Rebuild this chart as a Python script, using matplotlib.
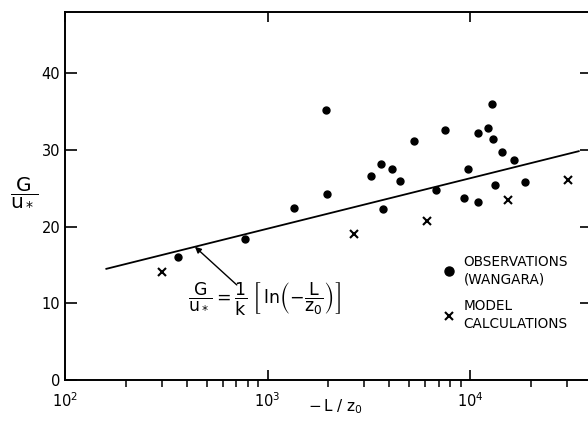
import numpy as np
import matplotlib
matplotlib.use("Agg")
from matplotlib import pyplot as plt
from matplotlib.lines import Line2D
from matplotlib.ticker import LogLocator, NullFormatter

plt.rcParams['font.family'] = ['DejaVu Sans']
plt.rcParams['mathtext.fontset'] = 'dejavusans'
plt.rcParams['mathtext.default'] = 'regular'

# Wangara observations (-L/z0, G/u*)
obs_x = [363, 774, 1352, 1950, 1972, 3233, 3622, 3733, 4121, 4532, 5306,
         6798, 7530, 9370, 9775, 10917, 10990, 12270, 12800, 12940, 13280,
         14440, 16560, 18620]
obs_y = [16.1, 18.4, 22.4, 35.2, 24.2, 26.6, 28.2, 22.3, 27.5, 26.0, 31.2,
         24.8, 32.6, 23.8, 27.5, 23.2, 32.2, 32.9, 36.0, 31.5, 25.5,
         29.7, 28.7, 25.8]

# model calculations
model_x = [300, 2673, 6110, 15350, 30340]
model_y = [14.1, 19.0, 20.8, 23.5, 26.1]

# G/u* = (1/k) ln(-L/z0)
k = 0.35
line_x = np.array([160, 34400])
line_y = np.log(line_x) / k

fig = plt.figure(figsize=(5.88, 4.24), dpi=100)
ax = fig.add_axes([65 / 588, 1 - 380 / 424, 527 / 588, 368 / 424])

ax.plot(line_x, line_y, color='black', lw=1.3)
ax.plot(obs_x, obs_y, 'o', color='black', ms=5, mec='black')
ax.plot(model_x, model_y, 'x', color='black', ms=5.5, mew=1.5)

ax.set_xscale('log')
ax.set_xlim(100, 4e4)
ax.set_ylim(0, 48)
ax.set_yticks([0, 10, 20, 30, 40])
ax.xaxis.set_minor_locator(LogLocator(base=10, subs=np.arange(2, 10)))
ax.xaxis.set_minor_formatter(NullFormatter())

for s in ax.spines.values():
    s.set_linewidth(1.4)

ax.tick_params(direction='in', top=True, right=True, labelsize=10.5,
               width=1.2, color='black')
ax.tick_params(axis='x', which='major', length=7, pad=8)
ax.tick_params(axis='x', which='minor', length=5, width=1.1)
ax.tick_params(axis='y', which='major', length=8.5, pad=3.5)

ax.set_xlabel(r'$-\,L\ /\ z_0$', fontsize=11)
ax.xaxis.set_label_coords((336 - 65) / 527, -0.048)

fig.text(24 / 588, 1 - 192 / 424, r'$\dfrac{G}{u_*}$', fontsize=14.5,
         ha='center', va='center')

# formula and arrow to the line
tip_x = 438
ax.annotate('', xy=(tip_x, np.log(tip_x) / k), xytext=(705, 12.4),
            arrowprops=dict(arrowstyle='-|>', color='black', lw=1.0,
                            mutation_scale=9, shrinkA=0, shrinkB=0))
ax.text(405, 10.6,
        r'$\dfrac{G}{u_*} = \dfrac{1}{k}\ \left[\,ln\left(-\dfrac{L}{z_0}\right)\right]$',
        fontsize=12.5, ha='left', va='center')

handles = [Line2D([], [], marker='o', ls='none', color='black', ms=6.5),
           Line2D([], [], marker='x', ls='none', color='black', ms=6, mew=1.5)]
labels = ['OBSERVATIONS\n(WANGARA)', 'MODEL\nCALCULATIONS']
leg = ax.legend(handles, labels, loc='upper left', bbox_to_anchor=(0.715, 0.341),
                frameon=False, fontsize=9.8, handlelength=1.0, handletextpad=0.6,
                labelspacing=0.95, borderpad=0, borderaxespad=0)
for t in leg.get_texts():
    t.set_linespacing(1.35)

fig.savefig('out.png', dpi=100)
